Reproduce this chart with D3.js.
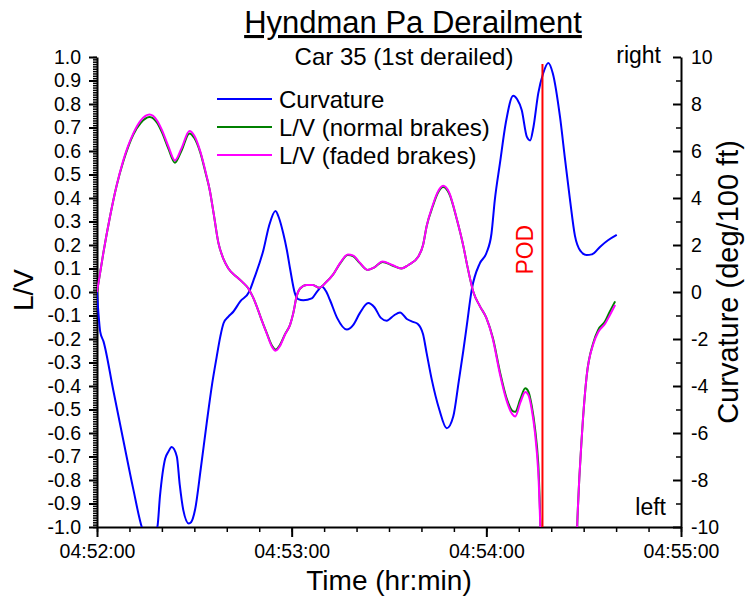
<!DOCTYPE html>
<html>
<head>
<meta charset="utf-8">
<script src="https://cdn.jsdelivr.net/npm/d3@7"></script>
<style>
  body { margin: 0; background: #fff; }
  text { font-family: "Liberation Sans", Arial, sans-serif; fill: #000; }
  .axis path, .axis line { stroke: #000; stroke-width: 2; }
  .axis.minor path { display: none; }
  .axis.minor line { stroke-width: 1.5; }
  .axis text { font-size: 19.5px; }
</style>
</head>
<body>
<div id="chart"></div>
<script>

// time in seconds after 04:52:00
var lvTimes = [0, 2, 4, 6, 8.1, 11.2, 13.5, 16.2, 18.5, 20, 22, 24, 26, 28.5, 30, 31.8, 33.5, 34.8, 36, 37.4,
  39, 40.5, 43, 45, 46.6, 48, 49.2, 50.5, 52.3, 54, 55, 56.4, 58, 59.5, 60.5, 61.5, 62.6, 64.6, 66.5, 68.5,
  70.5, 72.8, 75, 77.3, 79, 81, 83.4, 85.5, 88, 91, 93.8, 96, 99, 100.5, 101.6, 103.5, 105, 106.7, 108.5, 110.9,
  113, 114, 116, 118, 120, 122, 124.2, 126.2, 128, 128.9, 130.5, 132, 133, 134, 135, 136, 138, 142, 147, 148,
  149.5, 150.9, 153, 154.5, 156.6, 158, 159.7];

var lvFaded = [0, 0.17, 0.32, 0.45, 0.56, 0.675, 0.73, 0.755, 0.73, 0.69, 0.62, 0.56, 0.61, 0.685, 0.665, 0.60, 0.51, 0.43, 0.33, 0.21,
  0.14, 0.10, 0.065, 0.04, 0.016, -0.02, -0.06, -0.11, -0.176, -0.235, -0.25, -0.23, -0.18, -0.14, -0.09, -0.02, 0.015, 0.03, 0.03, 0.018,
  0.04, 0.075, 0.125, 0.16, 0.155, 0.125, 0.094, 0.105, 0.13, 0.115, 0.10, 0.115, 0.15, 0.20, 0.28, 0.37, 0.425, 0.452, 0.425, 0.31,
  0.19, 0.12, 0.0, -0.06, -0.11, -0.20, -0.35, -0.46, -0.52, -0.53, -0.47, -0.425, -0.44, -0.50, -0.60, -0.765, -1.6, -2.2, -1.5, -1.0,
  -0.6, -0.36, -0.22, -0.17, -0.135, -0.10, -0.055];

var lvNormal = [0, 0.17, 0.32, 0.45, 0.555, 0.67, 0.72, 0.745, 0.72, 0.68, 0.61, 0.55, 0.60, 0.675, 0.655, 0.595, 0.505, 0.43, 0.33, 0.21,
  0.14, 0.10, 0.065, 0.04, 0.016, -0.02, -0.06, -0.11, -0.174, -0.23, -0.245, -0.225, -0.178, -0.14, -0.09, -0.02, 0.015, 0.03, 0.03, 0.018,
  0.04, 0.075, 0.123, 0.157, 0.152, 0.123, 0.094, 0.105, 0.128, 0.113, 0.10, 0.115, 0.15, 0.20, 0.28, 0.365, 0.42, 0.447, 0.42, 0.31,
  0.19, 0.12, 0.0, -0.06, -0.11, -0.195, -0.34, -0.45, -0.505, -0.51, -0.455, -0.41, -0.425, -0.485, -0.58, -0.73, -1.6, -2.2, -1.5, -1.0,
  -0.6, -0.36, -0.215, -0.16, -0.125, -0.085, -0.04];

var curvTimes = [0, 0.5, 1, 2, 5, 8.1, 11.2, 13.8, 16, 18.6, 19.4, 21, 22, 23, 24.6, 25.5, 26.6, 28.3, 29, 30.2,
  32, 33.8, 35.5, 36.9, 38, 39, 40.5, 42, 44.1, 46.9, 48.5, 51.3, 53, 55, 56.1, 57.4, 58.5, 59.5, 61, 62,
  63.6, 66.2, 68, 69.3, 70.5, 71.8, 74, 77, 79, 81, 83.6, 85.5, 87.5, 89.3, 91.5, 93.4, 95.5, 97.4, 98.8, 100.5,
  101.6, 103.2, 105.5, 107.8, 109.8, 111.5, 112.9, 114, 115.5, 118, 120, 121.6, 122.6, 124.2, 126, 128.3, 129.5, 130.9, 132.5, 133.5,
  134.5, 136, 137.5, 139.1, 140.5, 142.7, 144.3, 145.8, 147.3, 149, 150.9, 152.5, 155.1, 157.5, 160.2];

var curvature = [0, -1.0, -1.7, -2.1, -4.17, -6.3, -8.4, -10.0, -10.6, -10.0, -8.7, -7.1, -6.8, -6.6, -7.0, -8.2, -9.28, -9.85, -9.8, -9.28,
  -7.5, -5.59, -3.9, -2.75, -1.9, -1.33, -1.05, -0.84, -0.41, 0.01, 0.6, 1.79, 2.8, 3.45, 3.15, 2.5, 1.8, 1.0, -0.06, -0.3,
  -0.35, -0.27, 0.05, 0.23, 0.05, -0.34, -1.1, -1.6, -1.4, -0.9, -0.47, -0.65, -1.1, -1.22, -1.0, -0.87, -1.15, -1.27, -1.35, -1.8,
  -2.6, -3.74, -5.0, -5.8, -5.3, -3.8, -2.5, -1.4, 0.1, 1.22, 1.65, 2.5, 3.9, 5.48, 7.2, 8.35, 8.2, 7.74, 6.6, 6.45,
  7.0, 8.45, 9.3, 9.75, 9.3, 7.46, 5.6, 3.91, 2.4, 1.75, 1.57, 1.6, 1.93, 2.2, 2.43];

// point of derailment: time (s) and top of the marker line (L/V units)
var podTime = [137.3];
var podTop = [0.97];

var legendLabels = ["Curvature", "L/V (normal brakes)", "L/V (faded brakes)"];
var seriesColors = ["#0000ff", "#008000", "#ff00ff"];

var lvTickValues = d3.range(-10, 11).map(function(d){ return d / 10; });
var lvMinorValues = d3.range(-100, 101).map(function(d){ return d / 100; });
var curvTickValues = [-10, -8, -6, -4, -2, 0, 2, 4, 6, 8, 10];
var curvMinorValues = [-9, -7, -5, -3, -1, 1, 3, 5, 7, 9];
var timeStart = new Date(2000, 0, 1, 4, 52, 0);
var timeEnd = new Date(2000, 0, 1, 4, 55, 0);


DerailmentVis = function(_parentElement){
  this.parentElement = _parentElement;
  this.initVis();
}

DerailmentVis.prototype.initVis = function(){
  var vis = this;

  vis.margin = {top: 57, right: 65, bottom: 70, left: 97};
  vis.width = 746 - vis.margin.left - vis.margin.right;
  vis.height = 597 - vis.margin.top - vis.margin.bottom;

  vis.svg = d3.select("#" + vis.parentElement).append("svg")
    .attr("width", 746)
    .attr("height", 597)
    .append("g")
    .attr("transform", "translate(" + vis.margin.left + "," + vis.margin.top + ")");

  // Scales
  vis.x = d3.scaleTime().domain([timeStart, timeEnd]).range([0, vis.width]);
  vis.yLV = d3.scaleLinear().domain([-1, 1]).range([vis.height, 0]);
  vis.yCurv = d3.scaleLinear().domain([-10, 10]).range([vis.height, 0]);

  vis.svg.append("clipPath").attr("id", "plot-clip")
    .append("rect")
    .attr("x", 0).attr("y", 0)
    .attr("width", vis.width).attr("height", vis.height);

  // plain hyphen for negatives, like the original
  var fmtLV = function(d){ return (Math.abs(d) < 1e-9 ? 0 : d).toFixed(1); };
  var fmtCurv = function(d){ return String(d); };

  // Left axis (L/V)
  vis.svg.append("g").attr("class", "axis minor")
    .call(d3.axisLeft(vis.yLV).tickValues(lvMinorValues).tickSize(4).tickFormat(""));
  vis.svg.append("g").attr("class", "axis")
    .call(d3.axisLeft(vis.yLV).tickValues(lvTickValues).tickSizeInner(8).tickSizeOuter(0).tickPadding(8).tickFormat(fmtLV));

  // Right axis (curvature), ticks pointing inward
  vis.svg.append("g").attr("class", "axis minor")
    .attr("transform", "translate(" + vis.width + ",0)")
    .call(d3.axisRight(vis.yCurv).tickValues(curvMinorValues).tickSize(-5).tickFormat(""));
  vis.svg.append("g").attr("class", "axis")
    .attr("transform", "translate(" + vis.width + ",0)")
    .call(d3.axisRight(vis.yCurv).tickValues(curvTickValues).tickSizeInner(-8).tickSizeOuter(0).tickPadding(10)
      .tickFormat(fmtCurv));

  // Bottom axis (time)
  vis.svg.append("g").attr("class", "axis minor")
    .attr("transform", "translate(0," + vis.height + ")")
    .call(d3.axisBottom(vis.x).ticks(d3.timeSecond.every(10)).tickSize(5).tickFormat(""));
  vis.svg.append("g").attr("class", "axis")
    .attr("transform", "translate(0," + vis.height + ")")
    .call(d3.axisBottom(vis.x).ticks(d3.timeMinute.every(1)).tickSizeInner(10).tickSizeOuter(0).tickPadding(7)
      .tickFormat(d3.timeFormat("%H:%M:%S")));

  vis.svg.selectAll(".axis text").style("fill", "#000");

  // Axis labels
  vis.svg.append("text")
    .attr("text-anchor", "middle")
    .attr("transform", "translate(" + (-vis.margin.left + 33) + "," + (vis.height / 2 - 2) + ")rotate(-90)")
    .style("font-size", "28px")
    .text("L/V");

  vis.svg.append("text")
    .attr("text-anchor", "middle")
    .attr("transform", "translate(" + (vis.width + 57) + "," + (vis.height / 2 - 10) + ")rotate(-90)")
    .style("font-size", "29px")
    .text("Curvature (deg/100 ft)");

  vis.svg.append("text")
    .attr("text-anchor", "middle")
    .attr("x", vis.width / 2)
    .attr("y", vis.height + 63)
    .style("font-size", "28px")
    .text("Time (hr:min)");

  vis.svg.append("text")
    .attr("text-anchor", "end")
    .attr("x", vis.width - 20)
    .attr("y", 6)
    .style("font-size", "23px")
    .text("right");

  vis.svg.append("text")
    .attr("text-anchor", "end")
    .attr("x", vis.width - 15)
    .attr("y", vis.height - 12)
    .style("font-size", "23px")
    .text("left");

  // Titles
  vis.svg.append("text")
    .attr("text-anchor", "middle")
    .attr("x", 316)
    .attr("y", 33 - vis.margin.top)
    .style("font-size", "31px")
    .style("text-decoration", "underline")
    .text("Hyndman Pa Derailment");

  vis.svg.append("text")
    .attr("text-anchor", "middle")
    .attr("x", 307)
    .attr("y", 65 - vis.margin.top)
    .style("font-size", "24px")
    .text("Car 35 (1st derailed)");

  vis.wrangleData();
}

DerailmentVis.prototype.wrangleData = function(){
  var vis = this;

  function toTime(t){ return new Date(timeStart.getTime() + t * 1000); }

  vis.curvData = curvTimes.map(function(t, i){ return {time: toTime(t), value: curvature[i]}; });
  vis.normalData = lvTimes.map(function(t, i){ return {time: toTime(t), value: lvNormal[i]}; });
  vis.fadedData = lvTimes.map(function(t, i){ return {time: toTime(t), value: lvFaded[i]}; });
  vis.podData = podTime.map(function(t, i){ return {time: toTime(t), top: podTop[i]}; });

  vis.updateVis();
}

DerailmentVis.prototype.updateVis = function(){
  var vis = this;

  var plot = vis.svg.append("g").attr("clip-path", "url(#plot-clip)");

  var lineCurv = d3.line()
    .x(function(d){ return vis.x(d.time); })
    .y(function(d){ return vis.yCurv(d.value); })
    .curve(d3.curveMonotoneX);

  var lineLV = d3.line()
    .x(function(d){ return vis.x(d.time); })
    .y(function(d){ return vis.yLV(d.value); })
    .curve(d3.curveMonotoneX);

  plot.append("path").datum(vis.curvData)
    .attr("fill", "none").attr("stroke", seriesColors[0]).attr("stroke-width", 2)
    .attr("d", lineCurv);

  plot.append("path").datum(vis.normalData)
    .attr("fill", "none").attr("stroke", seriesColors[1]).attr("stroke-width", 2)
    .attr("d", lineLV);

  plot.append("path").datum(vis.fadedData)
    .attr("fill", "none").attr("stroke", seriesColors[2]).attr("stroke-width", 2)
    .attr("d", lineLV);

  // POD marker
  vis.svg.selectAll(".pod").data(vis.podData).enter()
    .append("line")
    .attr("class", "pod")
    .attr("x1", function(d){ return vis.x(d.time); })
    .attr("x2", function(d){ return vis.x(d.time); })
    .attr("y1", function(d){ return vis.yLV(d.top); })
    .attr("y2", vis.yLV(-1))
    .attr("stroke", "#ff0000")
    .attr("stroke-width", 2);

  vis.svg.selectAll(".pod-label").data(vis.podData).enter()
    .append("text")
    .attr("class", "pod-label")
    .attr("text-anchor", "middle")
    .attr("transform", function(d){ return "translate(" + (vis.x(d.time) - 9) + "," + (vis.yLV(0.18)) + ")rotate(-90)"; })
    .style("font-size", "23px")
    .style("fill", "#ff0000")
    .text("POD");

  // Legend
  var legend = vis.svg.selectAll(".legend").data(legendLabels).enter()
    .append("g")
    .attr("class", "legend")
    .attr("transform", function(d, i){ return "translate(120," + (42 + i * 28) + ")"; });

  legend.append("line")
    .attr("x1", 0).attr("x2", 55)
    .attr("stroke", function(d, i){ return seriesColors[i]; })
    .attr("stroke-width", 2);

  legend.append("text")
    .attr("x", 62)
    .attr("y", 9)
    .style("font-size", "24px")
    .text(function(d){ return d; });
}

var chart = new DerailmentVis("chart");

</script>
</body>
</html>
